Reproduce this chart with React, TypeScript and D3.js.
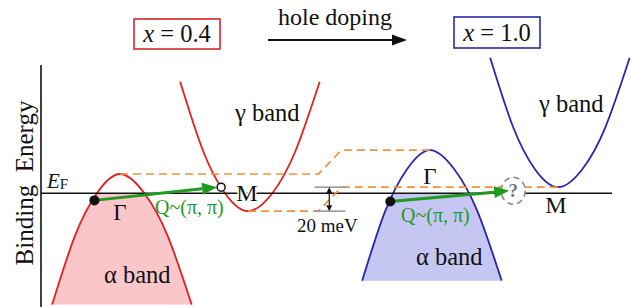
import React from "react";
import * as d3 from "d3";

const W = 632;
const H = 307;

// momentum offsets from the band extremum, in units of the Γ–M distance
const bandK = [-0.53, -0.35, -0.18, 0, 0.19, 0.37, 0.56];
// band energies relative to E_F (meV) at x = 0.4
const alphaE = [-93, -35, 0, 16, 0, -35, -93];
const gammaE = [93, 35, 0, -15, 0, 35, 93];

const dopings = ["0.4", "1.0"];
const shifts = [0, 20]; // rigid band shift with hole doping (meV)
const lineColors = ["#e3201f", "#2b25b0"];
const fillColors = ["#fac6c9", "#c6c6f3"];

// Q ~ (π, π) nesting vectors: from the α band towards the γ band
const qFromK = [-0.2, -0.31];
const qFromE = [-6, -7];
const qToK = [0.79, 0.65];
const qToE = [5, 2];

// where the orange guide lines step up between the panels (left-panel momentum)
const stepK = [1.55, 1.73];

const serif = "'Liberation Serif', 'Times New Roman', serif";
const orange = "#f0913c";
const green = "#1f9a1f";

const y = d3.scaleLinear().domain([-95, 107]).range([307, 65]);
const panelGamma = [120, 430];
const xs = panelGamma.map((g) => d3.scaleLinear().domain([0, 1]).range([g, g + 128]));

const line = d3
  .line<[number, number]>()
  .x((d) => d[0])
  .y((d) => d[1])
  .curve(d3.curveNatural);

const arrow = (x1: number, y1: number, x2: number, y2: number, len: number, half: number) => {
  const a = Math.atan2(y2 - y1, x2 - x1);
  const bx = x2 - len * Math.cos(a);
  const by = y2 - len * Math.sin(a);
  const nx = -Math.sin(a) * half;
  const ny = Math.cos(a) * half;
  return {
    shaft: [bx, by],
    head: `M${x2},${y2}L${bx + nx},${by + ny}L${bx - nx},${by - ny}Z`,
  };
};

const Panel = ({ i }: { i: number }) => {
  const x = xs[i];
  const s = shifts[i];
  const alpha: [number, number][] = bandK.map((k, j) => [x(k), y(alphaE[j] + s)]);
  const gamma: [number, number][] = bandK.map((k, j) => [x(1 + k), y(gammaE[j] + s)]);
  const bottom = y(d3.min(alphaE)! + s);
  const area = d3
    .area<[number, number]>()
    .x((d) => d[0])
    .y0(bottom)
    .y1((d) => d[1])
    .curve(d3.curveNatural);
  return (
    <g>
      <path d={area(alpha)!} fill={fillColors[i]} clipPath="url(#belowEF)" />
      <path d={line(alpha)!} fill="none" stroke={lineColors[i]} strokeWidth={1.8} />
      <path d={line(gamma)!} fill="none" stroke={lineColors[i]} strokeWidth={1.8} />
    </g>
  );
};

const QArrow = ({ i }: { i: number }) => {
  const x = xs[i];
  const x1 = x(qFromK[i]);
  const y1 = y(qFromE[i]);
  const x2 = x(qToK[i]) - 4;
  const y2 = y(qToE[i]);
  const a = arrow(x1, y1, x2, y2, 15, 6);
  return (
    <g>
      <line x1={x1} y1={y1} x2={a.shaft[0]} y2={a.shaft[1]} stroke={green} strokeWidth={3} />
      <path d={a.head} fill={green} />
      <circle cx={x1} cy={y1} r={5} fill="#111" />
    </g>
  );
};

export default function App() {
  const ef = y(0);
  const x0 = xs[0];
  const x1 = xs[1];
  const upper: [number, number][] = [
    [x0(0), y(alphaE[3])],
    [x0(stepK[0]), y(alphaE[3])],
    [x0(stepK[1]), y(alphaE[3] + shifts[1])],
    [x1(0), y(alphaE[3] + shifts[1])],
  ];
  const lower: [number, number][] = [
    [x0(1), y(gammaE[3])],
    [x0(stepK[0]), y(gammaE[3])],
    [x0(stepK[1]), y(gammaE[3] + shifts[1])],
    [x1(1), y(gammaE[3] + shifts[1])],
  ];
  const straight = d3.line();
  const mx = x0(1.635);
  const mTop = y(gammaE[3] + shifts[1]);
  const mBot = y(gammaE[3]);
  const up = arrow(mx, mBot, mx, mTop, 6, 3);
  const dn = arrow(mx, mTop, mx, mBot, 6, 3);
  const qx = x1(qToK[1]);
  const qy = y(qToE[1]);
  const hd = arrow(268, 40, 407, 40, 15, 5.5);

  return (
    <svg width={W} height={H} style={{ position: "absolute", left: 0, top: 0 }} fontFamily={serif}>
      <defs>
        <clipPath id="belowEF">
          <rect x={0} y={ef} width={W} height={H - ef} />
        </clipPath>
      </defs>
      <rect width={W} height={H} fill="#fff" />

      {/* header */}
      <rect x={134} y={19} width={86} height={30} fill="none" stroke="#d8262a" strokeWidth={1.6} />
      <rect x={454} y={17} width={86} height={31} fill="none" stroke="#2a2aa8" strokeWidth={1.6} />
      {dopings.map((d, i) => (
        <text key={d} x={i === 0 ? 177 : 497} y={i === 0 ? 41.5 : 40.5} fontSize={24.5} textAnchor="middle" fill="#111">
          <tspan fontStyle="italic">x</tspan> = {d}
        </text>
      ))}
      <text x={335} y={25} fontSize={24} textAnchor="middle" fill="#111">
        hole doping
      </text>
      <line x1={268} y1={40} x2={hd.shaft[0]} y2={40} stroke="#111" strokeWidth={2} />
      <path d={hd.head} fill="#111" />

      {[0, 1].map((i) => (
        <Panel key={i} i={i} />
      ))}

      {/* axes */}
      <line x1={41} y1={65} x2={41} y2={H} stroke="#111" strokeWidth={1.6} />
      <line x1={41} y1={ef} x2={612} y2={ef} stroke="#111" strokeWidth={1.6} />

      {/* 20 meV guides */}
      <path d={straight(upper)!} fill="none" stroke={orange} strokeWidth={1.7} strokeDasharray="8,5" />
      <path d={straight(lower)!} fill="none" stroke={orange} strokeWidth={1.7} strokeDasharray="8,5" />
      <line x1={x0(1.52)} x2={x0(1.76)} y1={mTop} y2={mTop} stroke="#999" strokeWidth={1.6} />
      <line x1={x0(1.52)} x2={x0(1.76)} y1={mBot} y2={mBot} stroke="#999" strokeWidth={1.6} />
      <line x1={mx} x2={mx} y1={up.shaft[1]} y2={dn.shaft[1]} stroke="#111" strokeWidth={1.2} />
      <path d={up.head} fill="#111" />
      <path d={dn.head} fill="#111" />
      <text x={mx - 2} y={232} fontSize={19} textAnchor="middle" fill="#111">
        20 meV
      </text>

      {/* question mark */}
      <ellipse cx={qx} cy={qy} rx={12} ry={13.5} fill="#fff" stroke="#8a8a8a" strokeWidth={1.6} strokeDasharray="6,4" />
      <text x={qx} y={qy + 6} fontSize={19} fontWeight="bold" textAnchor="middle" fill="#777">
        ?
      </text>

      {[0, 1].map((i) => (
        <QArrow key={i} i={i} />
      ))}
      <circle cx={x0(qToK[0])} cy={y(qToE[0])} r={4} fill="#fff" stroke="#111" strokeWidth={1.5} />

      {/* labels */}
      <text x={235} y={121} fontSize={24.5} fill="#111">γ band</text>
      <text x={539} y={112} fontSize={24.5} fill="#111">γ band</text>
      <text x={104} y={283} fontSize={24.5} fill="#111">α band</text>
      <text x={416} y={265} fontSize={24.5} fill="#111">α band</text>
      <text x={x0(0)} y={220} fontSize={23} textAnchor="middle" fill="#111">Γ</text>
      <text x={x1(0)} y={184} fontSize={23} textAnchor="middle" fill="#111">Γ</text>
      <text x={x0(1) - 1} y={201} fontSize={24} textAnchor="middle" fill="#111" stroke="#fff" strokeWidth={3} paintOrder="stroke">M</text>
      <text x={x1(1) - 2} y={213} fontSize={24} textAnchor="middle" fill="#111">M</text>
      <text x={155} y={214} fontSize={20} fill={green}>Q~(π, π)</text>
      <text x={401} y={222} fontSize={20} fill={green}>Q~(π, π)</text>
      <text x={47} y={188} fontSize={21} fill="#111">
        <tspan fontStyle="italic">E</tspan>
        <tspan fontSize={15} dy={1}>F</tspan>
      </text>
      <text transform="translate(33,183) rotate(-90)" fontSize={25} textAnchor="middle" fill="#111" style={{ whiteSpace: "pre" }}>
        Binding  Energy
      </text>
    </svg>
  );
}
